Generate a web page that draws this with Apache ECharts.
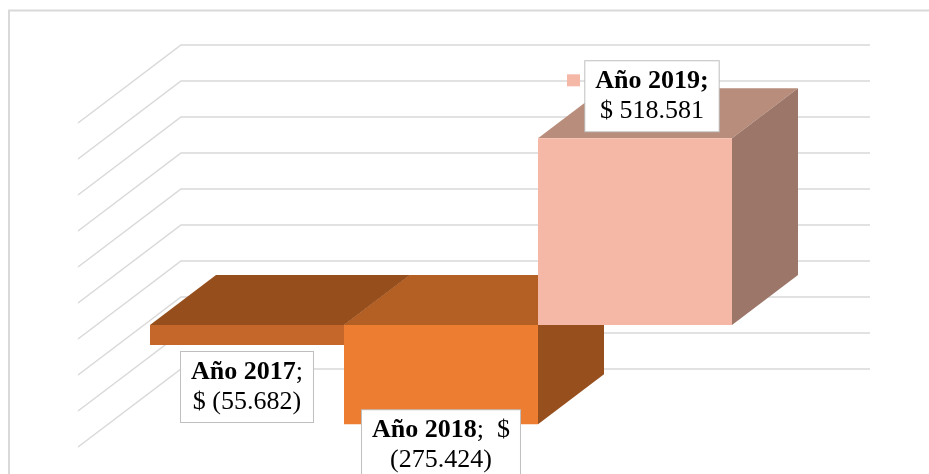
<!DOCTYPE html>
<html>
<head>
<meta charset="UTF-8">
<title>Resultado por año</title>
<script src="https://cdn.jsdelivr.net/npm/echarts@6/dist/echarts.min.js"></script>
<style>
  html, body { margin: 0; padding: 0; background: #fff; }
  #main { width: 929px; height: 474px; }
</style>
</head>
<body>
<div id="main"></div>
<script type="text/javascript">
// datos del grafico
var years = ['2017', '2018', '2019'];
var values = [-55682, -275424, 518581];
var tickValues = [-300000, -200000, -100000, 0, 100000, 200000, 300000, 400000, 500000, 600000];

// colores por barra (frente, techo, lateral)
var barColors = [
  { front: '#c5672a', top: '#964f1c', side: '#964f1c' },
  { front: '#ed7d31', top: '#b45f24', side: '#974f1d' },
  { front: '#f5b8a6', top: '#b98d7c', side: '#9c7668' }
];
// ubicacion de cada etiqueta respecto a su barra
var labelBox = [
  { dx: 0, dy: 7, from: 'bottom', wrapDollar: false, boldSemi: false, key: false },
  { dx: 0, dy: -14, from: 'bottom', wrapDollar: true, boldSemi: false, key: false },
  { dx: 17, dy: -7, from: 'top', wrapDollar: false, boldSemi: true, key: true }
];

var DX = 66, DY = 50;      // profundidad de las barras
var SX = 103, SY = 78;     // pared lateral
var serif = '"Times New Roman", "Liberation Serif", serif';

function miles(n) {
  return String(n).replace(/\B(?=(\d{3})+(?!\d))/g, '.');
}
function labelText(i) {
  var v = values[i], lb = labelBox[i];
  var num = v < 0 ? '(' + miles(-v) + ')' : miles(v);
  var head = lb.boldSemi ? '{b|Año ' + years[i] + ';}' : '{b|Año ' + years[i] + '}{n|;}';
  if (lb.wrapDollar) return head.replace('{n|;}', '{n|;  $}') + '\n{n|' + num + '}';
  return head + '\n{n|$ ' + num + '}';
}

function renderWall(params, api) {
  var v = api.value(1);
  var a = api.coord([1, v]);
  var b = api.coord([0, v]);
  return {
    type: 'polyline',
    shape: { points: [a, b, [b[0] - SX, b[1] + SY]] },
    style: { stroke: '#d9d9d9', lineWidth: 1.5, fill: null }
  };
}

function renderBar(params, api) {
  var i = params.dataIndex;
  var c = api.coord([api.value(0), api.value(1)]);
  var z = api.coord([api.value(0), 0]);
  var w = api.size([1, 0])[0];
  var xl = c[0] - w / 2, xr = c[0] + w / 2;
  var yt = Math.min(c[1], z[1]), yb = Math.max(c[1], z[1]);
  var col = barColors[i];
  var lb = labelBox[i];
  var children = [
    { type: 'polygon', shape: { points: [[xl, yt], [xr, yt], [xr + DX, yt - DY], [xl + DX, yt - DY]] }, style: { fill: col.top } },
    { type: 'polygon', shape: { points: [[xr, yt], [xr + DX, yt - DY], [xr + DX, yb - DY], [xr, yb]] }, style: { fill: col.side } },
    { type: 'rect', shape: { x: xl, y: yt, width: w, height: yb - yt }, style: { fill: col.front } }
  ];
  var lx = c[0] + lb.dx;
  var ly = lb.from === 'bottom' ? yb + lb.dy : yt + lb.dy;
  children.push({
    type: 'text', x: lx, y: ly, z2: 10,
    style: {
      text: labelText(i),
      align: 'center',
      verticalAlign: lb.from === 'bottom' ? 'top' : 'bottom',
      backgroundColor: '#fff',
      borderColor: '#bfbfbf',
      borderWidth: 1,
      padding: [5, 10, 5, 10],
      rich: {
        b: { fontFamily: serif, fontWeight: 'bold', fontSize: 26, lineHeight: 30, fill: '#000' },
        n: { fontFamily: serif, fontWeight: 'normal', fontSize: 26, lineHeight: 30, fill: '#000' }
      }
    }
  });
  if (lb.key) {
    children.push({
      type: 'rect', z2: 10,
      shape: { x: lx - 85, y: ly - 57, width: 13, height: 12 },
      style: { fill: col.front }
    });
  }
  return { type: 'group', children: children };
}

var myChart = echarts.init(document.getElementById('main'), null, { renderer: 'canvas' });
var option = {
  backgroundColor: '#fff',
  animation: false,
  tooltip: { show: false },
  graphic: [{
    type: 'rect', silent: true,
    shape: { x: 9, y: 10.5, width: 1000, height: 1000 },
    style: { fill: null, stroke: '#d9d9d9', lineWidth: 2 }
  }],
  grid: [
    { left: 150, width: 582, top: 109, height: 324 },
    { left: 181, right: 59, top: 45, height: 324 }
  ],
  xAxis: [
    { gridIndex: 0, type: 'category', data: years, show: false },
    { gridIndex: 1, type: 'value', min: 0, max: 1, show: false }
  ],
  yAxis: [
    { gridIndex: 0, type: 'value', min: -300000, max: 600000, interval: 100000, show: false },
    { gridIndex: 1, type: 'value', min: -300000, max: 600000, interval: 100000, show: false }
  ],
  series: [
    {
      type: 'custom', xAxisIndex: 1, yAxisIndex: 1, silent: true, clip: false,
      renderItem: renderWall,
      data: tickValues.map(function (v) { return [0, v]; })
    },
    {
      type: 'custom', xAxisIndex: 0, yAxisIndex: 0, clip: false,
      renderItem: renderBar,
      encode: { x: 0, y: 1 },
      data: values.map(function (v, i) { return [i, v]; })
    }
  ]
};
myChart.setOption(option);
</script>
</body>
</html>
